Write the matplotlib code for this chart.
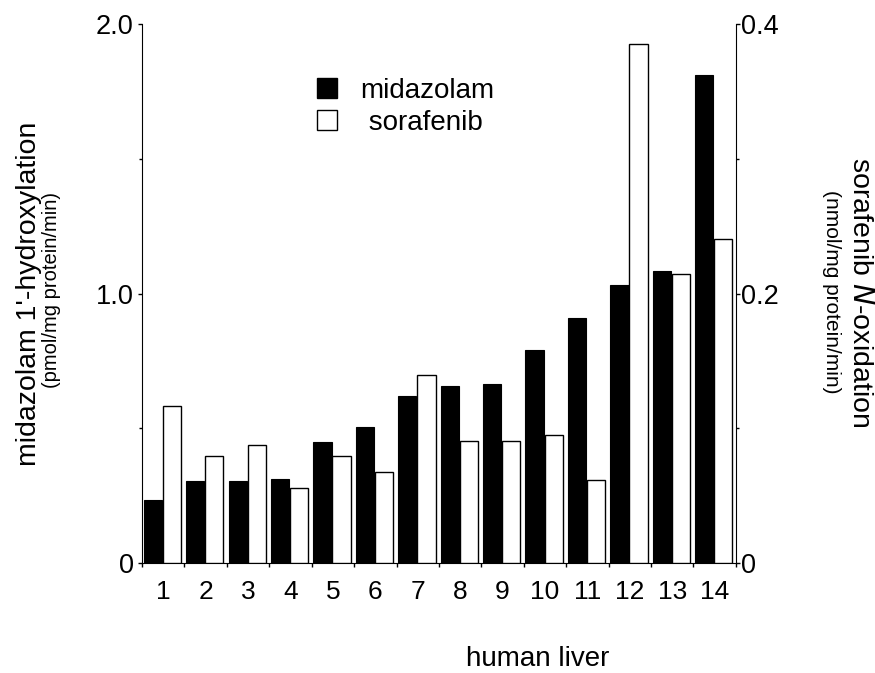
import numpy as np
import matplotlib.pyplot as plt
from matplotlib.patches import Patch

plt.rcParams['font.family'] = ['Liberation Sans', 'DejaVu Sans']

livers = [str(i) for i in range(1, 15)]
midazolam = [0.233, 0.303, 0.303, 0.312, 0.449, 0.505, 0.620, 0.658, 0.666,
             0.789, 0.911, 1.032, 1.084, 1.811]
sorafenib = [0.1166, 0.0792, 0.0879, 0.0557, 0.0792, 0.0679, 0.1396, 0.0906,
             0.0906, 0.0953, 0.0619, 0.385, 0.2143, 0.2408]

fig = plt.figure(figsize=(8.75, 6.73), dpi=100)
ax = fig.add_axes([0.1623, 0.1634, 0.841 - 0.1623, 0.9643 - 0.1634])
ax2 = ax.twinx()

x = np.arange(len(livers))
w = 0.43
ax.bar(x + 0.04, midazolam, w, align='edge', color='black', edgecolor='black', linewidth=0.8)
ax2.bar(x + 0.49, sorafenib, w, align='edge', color='white', edgecolor='black', linewidth=1.0)

ax.set_xlim(0, 14)
ax.set_ylim(0, 2.0)
ax2.set_ylim(0, 0.4)

ax.set_xticks(np.arange(0, 15))
ax.set_xticklabels([])
ax.set_xticks(x + 0.5, minor=True)
ax.set_xticklabels(livers, minor=True)
ax.tick_params(axis='x', which='major', direction='out', length=3, width=1)
ax.tick_params(axis='x', which='minor', length=0, pad=12, labelsize=19)

ax.set_yticks([0, 1.0, 2.0])
ax.set_yticklabels(['0', '1.0', '2.0'])
ax.set_yticks([0.5, 1.5], minor=True)
ax.tick_params(axis='y', which='major', direction='out', length=3, width=1, labelsize=19.5, pad=3)
ax.tick_params(axis='y', which='minor', direction='out', length=2, width=1)

ax2.set_yticks([0, 0.2, 0.4])
ax2.set_yticklabels(['0', '0.2', '0.4'])
ax2.set_yticks([0.1, 0.3], minor=True)
ax2.tick_params(axis='y', which='major', direction='out', length=3, width=1, labelsize=19.5, pad=1)
ax2.tick_params(axis='y', which='minor', direction='out', length=2, width=1)

for a in (ax, ax2):
    a.spines['top'].set_visible(False)
ax.spines['right'].set_visible(False)
ax2.spines['left'].set_visible(False)
ax2.spines['bottom'].set_visible(False)

# axis titles
fig.text(29 / 875, 1 - 294 / 673, "midazolam 1'-hydroxylation", rotation=90,
         ha='center', va='center', fontsize=20.5)
fig.text(52 / 875, 1 - 290 / 673, "(pmol/mg protein/min)", rotation=90,
         ha='center', va='center', fontsize=14.5)
fig.text(860 / 875, 1 - 292 / 673, "sorafenib $\\it{N}$-oxidation", rotation=270,
         ha='center', va='center', fontsize=20.5)
fig.text(831 / 875, 1 - 292 / 673, "(nmol/mg protein/min)", rotation=270,
         ha='center', va='center', fontsize=15)
fig.text(538 / 875, 1 - 659 / 673, "human liver", ha='center', va='center', fontsize=20)

handles = [Patch(facecolor='black', edgecolor='black'),
           Patch(facecolor='white', edgecolor='black')]
ax.legend(handles, ['midazolam', ' sorafenib'], loc='upper left',
          bbox_to_anchor=(292 / 875, 1 - 53 / 673), bbox_transform=fig.transFigure,
          frameon=False, fontsize=20, handlelength=0.72, handleheight=0.72,
          handletextpad=0.85, labelspacing=0.2)

fig.savefig('out.png', dpi=100)
